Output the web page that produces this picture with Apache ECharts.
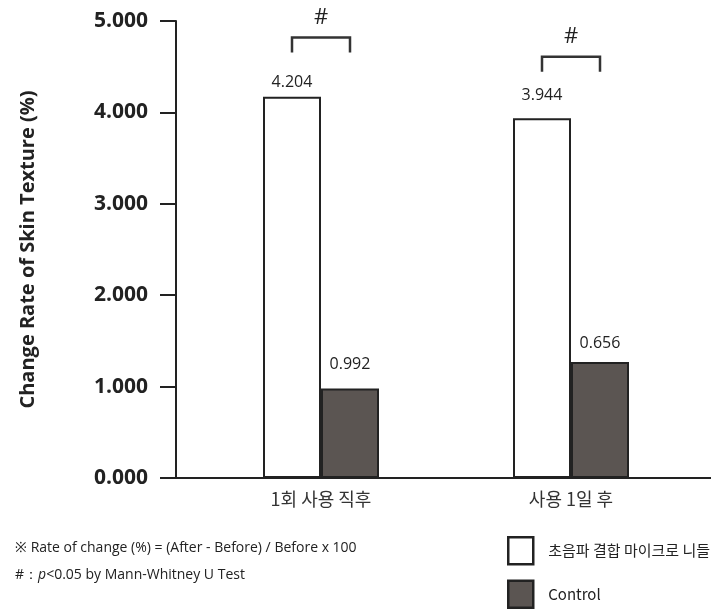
<!DOCTYPE html>
<html>
<head>
<meta charset="utf-8">
<script src="https://cdn.jsdelivr.net/npm/echarts@6/dist/echarts.min.js"></script>
<style>
  html, body { margin: 0; padding: 0; background: #fff; }
  #chart { width: 711px; height: 609px; }
</style>
</head>
<body>
<div id="chart"></div>
<script>
// 데이터
const categories = ["1회 사용 직후", "사용 1일 후"]
const seriesNames = ["초음파 결합 마이크로 니들", "Control"]
const treatValues = [4.17, 3.935]
const controlValues = [0.98, 1.27]
const treatLabels = ["4.204", "3.944"]
const controlLabels = ["0.992", "0.656"]
const bracketLevels = [4.82, 4.61]
const yTicks = [0, 1, 2, 3, 4, 5]

const barW = 58
const ink = "#222"

const chart = echarts.init(document.getElementById("chart"))

// 라벨 간격은 원본 그림에 맞춤
const toBars = (vals, gaps) => vals.map((v, i) => ({ value: [i, v], label: { distance: gaps[i] } }))

const options = {
  animation: false,
  grid: { left: 176, right: 0, top: 21, bottom: 131 },
  xAxis: {
    type: "value",
    min: -0.58,
    max: 1.56,
    axisLine: { show: true, onZero: false, lineStyle: { color: ink, width: 2 } },
    axisTick: { show: false },
    splitLine: { show: false },
    axisLabel: {
      customValues: [0, 1],
      formatter: (v) => categories[Math.round(v)] || "",
      fontFamily: "Noto Sans CJK KR",
      fontSize: 18,
      color: "#333",
      margin: 12
    }
  },
  yAxis: {
    type: "value",
    min: yTicks[0],
    max: yTicks[yTicks.length - 1],
    interval: 1,
    name: "Change Rate of Skin Texture (%)",
    nameLocation: "middle",
    nameGap: 138,
    nameTextStyle: { fontFamily: "Open Sans", fontWeight: "bold", fontSize: 20, color: ink },
    axisLine: { show: true, onZero: false, lineStyle: { color: ink, width: 2 } },
    axisTick: { show: true, inside: false, length: 16, lineStyle: { color: ink, width: 2 } },
    splitLine: { show: false },
    axisLabel: {
      formatter: (v) => v.toFixed(3),
      fontFamily: "Open Sans",
      fontWeight: "bold",
      fontSize: 21,
      color: ink,
      margin: 28
    }
  },
  legend: {
    orient: "vertical",
    left: 507,
    top: 536,
    height: 90,
    padding: 0,
    icon: "rect",
    itemWidth: 25,
    itemHeight: 27,
    itemGap: 14,
    itemStyle: { borderColor: ink, borderWidth: 2.5 },
    textStyle: { fontFamily: "Noto Sans CJK KR", fontSize: 15, color: ink, padding: [0, 0, 0, 10] },
    data: seriesNames
  },
  graphic: [
    {
      type: "text",
      left: 15,
      top: 541,
      style: { text: "※ Rate of change (%) = (After - Before) / Before x 100", font: "14px 'Open Sans'", fill: ink }
    },
    {
      type: "text",
      left: 15,
      top: 568,
      style: {
        text: "#：{i|p}<0.05 by Mann-Whitney U Test",
        font: "14px 'Open Sans'",
        fill: ink,
        rich: { i: { fontStyle: "italic", fontSize: 14, fontFamily: "Open Sans" } }
      }
    }
  ],
  series: [
    {
      name: seriesNames[0],
      type: "bar",
      barWidth: barW,
      barGap: "0%",
      data: toBars(treatValues, [6, 15]),
      itemStyle: { color: "#fff", borderColor: ink, borderWidth: 2 },
      label: {
        show: true,
        position: "top",
        formatter: (p) => treatLabels[p.dataIndex],
        fontFamily: "Open Sans",
        fontSize: 16,
        color: ink
      }
    },
    {
      name: seriesNames[1],
      type: "bar",
      barWidth: barW,
      barGap: "0%",
      data: toBars(controlValues, [16, 10]),
      itemStyle: { color: "#5b5552", borderColor: ink, borderWidth: 2 },
      label: {
        show: true,
        position: "top",
        formatter: (p) => controlLabels[p.dataIndex],
        fontFamily: "Open Sans",
        fontSize: 16,
        color: ink
      }
    },
    {
      // 유의성 브래킷
      type: "custom",
      silent: true,
      data: bracketLevels.map((v, i) => [i, v]),
      renderItem: (params, api) => {
        const c = api.coord([api.value(0), api.value(1)])
        const h = barW / 2
        const leg = 15
        return {
          type: "group",
          children: [
            {
              type: "polyline",
              shape: { points: [[c[0] - h, c[1] + leg], [c[0] - h, c[1]], [c[0] + h, c[1]], [c[0] + h, c[1] + leg]] },
              style: { stroke: "#333", lineWidth: 2.5, fill: null }
            },
            {
              type: "text",
              x: c[0],
              y: c[1] - 9,
              style: { text: "#", font: "22px 'Open Sans'", fill: ink, align: "center", verticalAlign: "bottom" }
            }
          ]
        }
      }
    }
  ]
}

chart.setOption(options)
</script>
</body>
</html>
